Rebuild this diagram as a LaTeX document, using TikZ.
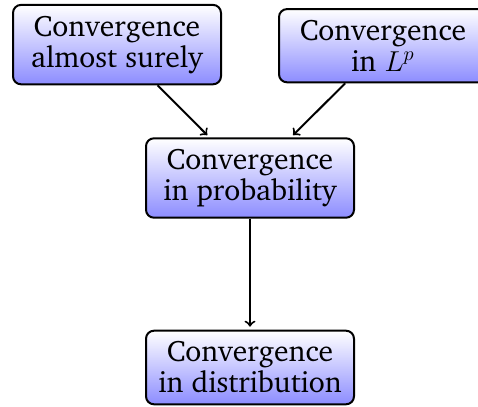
\documentclass[tikz,border=0pt]{standalone}
\usepackage[T1]{fontenc}
\usepackage{charter}
\usepackage{tikz}
\usetikzlibrary{positioning}

\begin{document}
\begin{tikzpicture}[
  x=0.5pt, y=-0.5pt,
  font=\fontsize{14.8}{15.5}\selectfont,
  mode/.style={rectangle, rounded corners=4pt, draw=black, line width=1pt, top color=white, bottom color=blue!45, align=center, minimum width=104pt, inner xsep=5pt, inner ysep=5.5pt},
  arrow/.style={line width=1pt, ->, shorten >=1.5pt}
]
\useasboundingbox (0,0) rectangle (478,407);
\node (prob) [mode] at (250,178) {Convergence\\in probability};
\node (as) [mode, above=26pt of prob, xshift=-66.5pt] {Convergence\\almost surely};
\node (lp) [mode, above=27pt of prob, xshift=66.5pt] {Convergence\\in $L^p$};
\node (dist) [mode, below=55.5pt of prob] {Convergence\\in distribution};
\draw [arrow] (as) -- (prob);
\draw [arrow] (lp) -- (prob);
\draw [arrow] (prob) -- (dist);
\end{tikzpicture}
\end{document}
